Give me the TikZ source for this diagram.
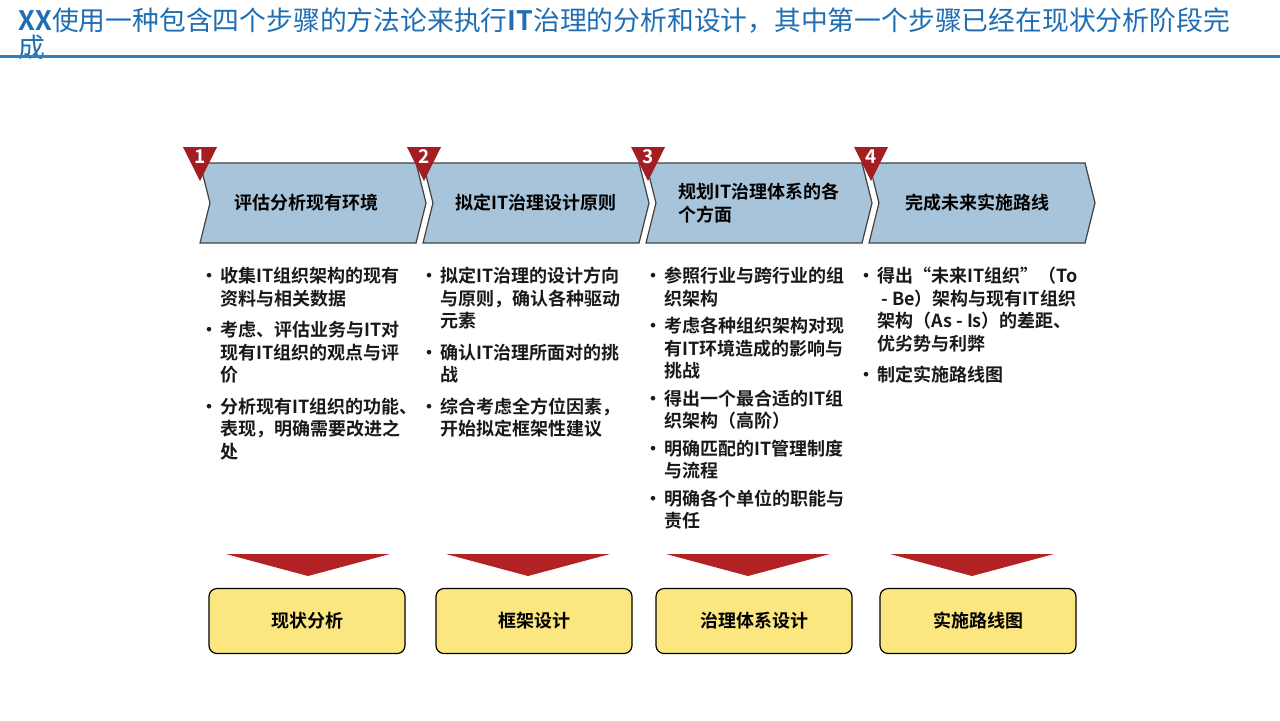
\documentclass[tikz,border=0pt]{standalone}
\usepackage{fontspec}
\setmainfont{Noto Sans CJK SC}[BoldFont={Noto Sans CJK SC Bold}]
\usetikzlibrary{shapes.symbols}

\definecolor{titleblue}{RGB}{31,110,180}
\definecolor{ruleblue}{RGB}{46,126,192}
\definecolor{stepblue}{RGB}{168,196,218}
\definecolor{markred}{RGB}{163,29,35}
\definecolor{arrowred}{RGB}{178,34,36}
\definecolor{boxyellow}{RGB}{252,230,128}

\newcommand{\bul}{\llap{•\hspace{1pt}}}

\begin{document}
\begin{tikzpicture}[x=0.5pt, y=-0.5pt,
    stepbox/.style={signal, signal from=west, signal to=east, signal pointer angle=152,
        draw=black!75, line width=0.6pt, fill=stepblue, minimum width=113pt, minimum height=40pt,
        inner sep=0pt, align=left, font=\bfseries\fontsize{9}{11.5}\selectfont},
    numtext/.style={text=white, inner sep=0pt, font=\bfseries\fontsize{9.5}{10}\selectfont},
    itemtext/.style={anchor=north west, inner sep=0pt, align=left, text=black!90,
        font=\bfseries\fontsize{9}{11.25}\selectfont},
    resultbox/.style={draw=black, line width=0.6pt, fill=boxyellow, rounded corners=4pt,
        minimum width=98pt, minimum height=32.5pt, font=\bfseries\fontsize{9}{11}\selectfont}]

    \useasboundingbox (0,0) rectangle (1280,720);

    % Title
    \node[anchor=north west, inner sep=0pt, align=left, text=titleblue,
        font=\fontsize{13.4}{12.5}\selectfont] (title) at (18,7)
        {\textbf{XX}使用一种包含四个步骤的方法论来执行\textbf{IT}治理的分析和设计，其中第一个步骤已经在现状分析阶段完\\成};
    \draw[ruleblue, line width=1.5pt] (0,56) -- (1280,56);

    % Steps
    \node[stepbox] (s1) at (313,203) {\hspace*{-7pt}评估分析现有环境};
    \node[stepbox] (s2) at (536,203) {拟定IT治理设计原则};
    \node[stepbox] (s3) at (759,203) {规划IT治理体系的各\\个方面};
    \node[stepbox] (s4) at (982,203) {\hspace*{-5pt}完成未来实施路线};

    % Number markers
    \foreach \i/\x in {1/200, 2/424, 3/648, 4/871} {
        \fill[markred] (\x-17,147) -- (\x+17,147) -- (\x,181) -- cycle;
        \node[numtext] (m\i) at (\x,157) {\i};
    }

    % Bullet lists
    \node[itemtext] (t1) at (220,267) {\bul 收集IT组织架构的现有\\资料与相关数据\\[4.5pt]
        \bul 考虑、评估业务与IT对\\现有IT组织的观点与评\\价\\[4.5pt]
        \bul 分析现有IT组织的功能、\\表现，明确需要改进之\\处};
    \node[itemtext] (t2) at (440,267) {\bul 拟定IT治理的设计方向\\与原则，确认各种驱动\\元素\\[4.5pt]
        \bul 确认IT治理所面对的挑\\战\\[4.5pt]
        \bul 综合考虑全方位因素，\\开始拟定框架性建议};
    \node[itemtext] (t3) at (664,267) {\bul 参照行业与跨行业的组\\织架构\\[2.5pt]
        \bul 考虑各种组织架构对现\\有IT环境造成的影响与\\挑战\\[2.5pt]
        \bul 得出一个最合适的IT组\\织架构（高阶）\\[2.5pt]
        \bul 明确匹配的IT管理制度\\与流程\\[2.5pt]
        \bul 明确各个单位的职能与\\责任};
    \node[itemtext] (t4) at (877,267) {\bul 得出“未来IT组织”（To\\\hspace{2pt}- Be）架构与现有IT组织\\架构（As - Is）的差距、\\优劣势与利弊\\[4.5pt]
        \bul 制定实施路线图};

    % Down arrows
    \foreach \x in {308, 528, 748, 972}
        \fill[arrowred] (\x-82,554) -- (\x+82,554) -- (\x,576) -- cycle;

    % Results
    \node[resultbox] (r1) at (307,621) {现状分析};
    \node[resultbox] (r2) at (534,621) {框架设计};
    \node[resultbox] (r3) at (754,621) {治理体系设计};
    \node[resultbox] (r4) at (978,621) {实施路线图};
\end{tikzpicture}
\end{document}
